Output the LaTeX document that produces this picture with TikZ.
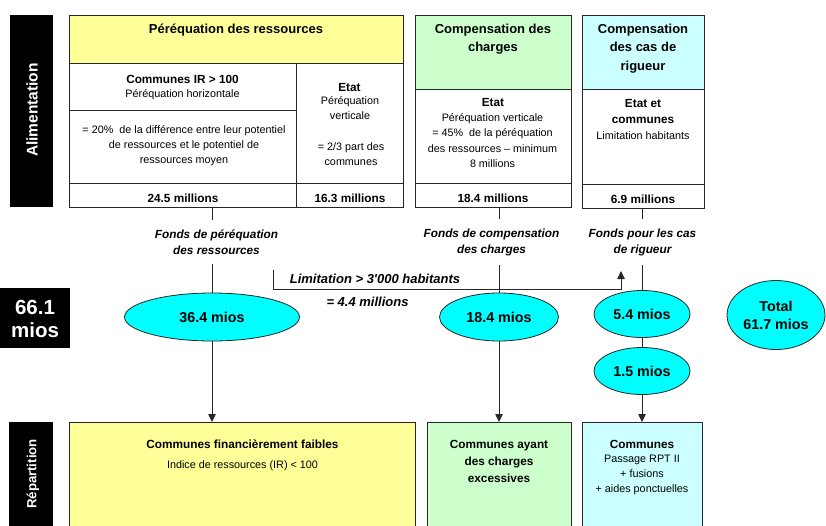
\documentclass[tikz,border=0pt]{standalone}
\usepackage{fontspec}
\newfontfamily\arial{Liberation Sans}
\usetikzlibrary{arrows.meta,shapes.geometric}
\definecolor{hyellow}{HTML}{FFFF99}
\definecolor{hgreen}{HTML}{CCFFCC}
\definecolor{hcyan}{HTML}{CCFFFF}
\definecolor{ecyan}{HTML}{00FFFF}
\definecolor{linec}{HTML}{262626}
\newcommand{\fs}[2]{\fontsize{#1}{#2}\selectfont}
\begin{document}
\begin{tikzpicture}[x=1pt,y=-1pt,
  every node/.style={font=\arial, inner sep=0pt, outer sep=0pt},
  cell/.style={draw=linec, line width=0.8pt, minimum width=#1},
  bar/.style={fill=black, minimum width=#1},
  oval/.style={ellipse, draw=linec, line width=0.8pt, fill=ecyan},
  hdr/.style={font=\arial\bfseries\fs{13}{18.5}, align=center},
  bt/.style={font=\arial\bfseries\fs{11.8}{16}, align=center},
  rt/.style={font=\arial\fs{10.8}{15.3}, align=center},
  flabel/.style={font=\arial\bfseries\itshape\fs{11.8}{16}, align=center, inner ysep=9.5pt},
  ital/.style={font=\arial\bfseries\itshape\fs{13}{16}},
  etext/.style={font=\arial\bfseries\fs{14.3}{18}, align=center},
  conn/.style={draw=linec, line width=0.8pt},
  arr/.style={conn, -{Triangle[length=8pt,width=7.5pt]}}
]
\path[use as bounding box] (0,0) rectangle (826,525);
\clip (0,0) rectangle (826,525);

% black side bars
\node[bar=43, minimum height=192] (alim) at (31.5,111) {};
\node[rotate=90, text=white, font=\arial\bfseries\fs{15.5}{18}] (alimt) at (32,110) {Alimentation};
\node[bar=44, minimum height=106] (rep) at (31,475) {};
\node[rotate=90, text=white, font=\arial\bfseries\fs{13.2}{16}] (rept) at (33,474) {Répartition};
\node[bar=70, minimum height=60] (tot1) at (35,318) {};
\node[text=white, font=\arial\bfseries\fs{20.5}{23}, align=center] (tot1t) at (35,319) {66.1\\mios};

% Péréquation des ressources
\node[cell=334, minimum height=48, fill=hyellow] (ph) at (236,39) {};
\node[cell=227, minimum height=47] (pir) at (182.5,86.5) {};
\node[cell=227, minimum height=73] (p20) at (182.5,146.5) {};
\node[cell=107, minimum height=120] (pet) at (349.5,123) {};
\node[cell=227, minimum height=24] (p245) at (182.5,195) {};
\node[cell=107, minimum height=24] (p163) at (349.5,195) {};
\node[hdr] (pht) at (236,30) {Péréquation des ressources};
\node[bt] (pirt1) at (182.5,79.5) {Communes IR > 100};
\node[rt] (pirt2) at (182.5,95) {Péréquation horizontale};
\node[rt] (p20t) at (184,145.5) {= 20\%\ \ de la différence entre leur potentiel\\de ressources et le potentiel de\\ressources moyen};
\node[bt] (pett1) at (349.5,87) {Etat};
\node[rt] (pett2) at (350,108) {Péréquation\\verticale};
\node[rt] (pett3) at (351,154) {= 2/3 part des\\communes};
\node[bt] (p245t) at (183,198) {24.5 millions};
\node[bt] (p163t) at (350,198) {16.3 millions};

% Compensation des charges
\node[cell=156, minimum height=74, fill=hgreen] (ch) at (493,52) {};
\node[cell=156, minimum height=94] (cb) at (493,136) {};
\node[cell=156, minimum height=24] (cv) at (493,195) {};
\node[hdr] (cht) at (493,39) {Compensation des\\charges};
\node[bt] (cbt1) at (493,102) {Etat};
\node[rt] (cbt2) at (492.5,140.5) {Péréquation verticale\\= 45\%\ \ de la péréquation\\des ressources – minimum\\8 millions};
\node[bt] (cvt) at (493,198) {18.4 millions};

% Compensation des cas de rigueur
\node[cell=122, minimum height=74, fill=hcyan] (rh) at (643,52) {};
\node[cell=122, minimum height=95] (rb) at (643,136.5) {};
\node[cell=122, minimum height=24] (rv) at (643,196) {};
\node[hdr] (rht) at (643,48.5) {Compensation\\des cas de\\rigueur};
\node[bt] (rbt1) at (643,111.5) {Etat et\\communes};
\node[rt] (rbt2) at (643,136) {Limitation habitants};
\node[bt] (rvt) at (643,199) {6.9 millions};

% fund labels
\node[flabel] (fp) at (216.5,242) {Fonds de péréquation\\des ressources};
\node[flabel] (fc) at (491.5,242) {Fonds de compensation\\des charges};
\node[flabel] (fr) at (642.5,242) {Fonds pour les cas\\de rigueur};

% ellipses
\node[oval, minimum width=175, minimum height=48] (e364) at (212,317) {};
\node[etext] at (e364) {36.4 mios};
\node[oval, minimum width=119, minimum height=48] (e184) at (499,317) {};
\node[etext] at (e184) {18.4 mios};
\node[oval, minimum width=96, minimum height=47] (e54) at (642,314) {};
\node[etext] at (e54) {5.4 mios};
\node[oval, minimum width=96, minimum height=47] (e15) at (642,371) {};
\node[etext] at (e15) {1.5 mios};
\node[oval, minimum width=98, minimum height=69] (etot) at (776,315) {};
\node[etext] at (etot) {Total\\61.7 mios};

% bottom boxes
\node[cell=346, minimum height=106, fill=hyellow] (b1) at (242,475) {};
\node[cell=144, minimum height=106, fill=hgreen] (b2) at (499,475) {};
\node[cell=120, minimum height=106, fill=hcyan] (b3) at (642,475) {};
\node[bt] (b1t1) at (242.5,444) {Communes financièrement faibles};
\node[rt] (b1t2) at (242.5,466) {Indice de ressources (IR) < 100};
\node[bt, font=\arial\bfseries\fs{11.8}{17}] (b2t) at (499,461) {Communes ayant\\des charges\\excessives};
\node[bt] (b3t1) at (642,444) {Communes};
\node[rt, font=\arial\fs{10.8}{15}] (b3t2) at (642,475) {Passage RPT II\\+ fusions\\+ aides ponctuelles};

% limitation
\node[ital] (limt) at (375,278.5) {Limitation > 3'000 habitants};
\node[ital] (limv) at (367.5,302) {= 4.4 millions};
\coordinate (limA) at (273,270);
\coordinate (limC) at (273,289);
\coordinate (limB) at (621,271);

% connectors
\draw[conn] (e364.north |- p245.south) -- (e364.north |- fp.north);
\draw[conn] (e364.north |- fp.south) -- (e364.north);
\draw[arr] (e364.south) -- (e364.south |- b1.north);
\draw[conn] (e184.north |- cv.south) -- (e184.north |- fc.north);
\draw[conn] (e184.north |- fc.south) -- (e184.north);
\draw[arr] (e184.south) -- (e184.south |- b2.north);
\draw[conn] (e54.north |- rv.south) -- (e54.north |- fr.north);
\draw[conn] (e54.north |- fr.south) -- (e54.north);
\draw[conn] (e54.south) -- (e15.north);
\draw[arr] (e15.south) -- (e15.south |- b3.north);
\draw[arr] (limA) -- (limC) -| (limB);
\end{tikzpicture}
\end{document}
